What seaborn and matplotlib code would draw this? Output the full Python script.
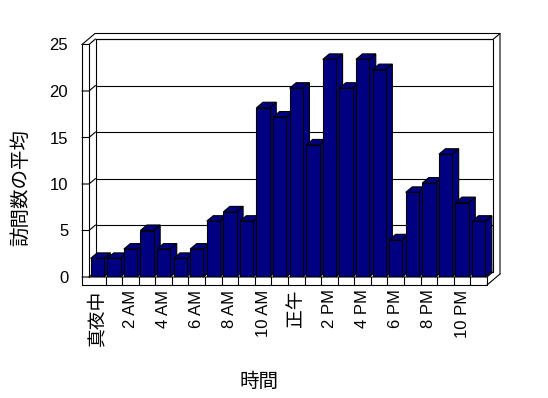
import matplotlib
matplotlib.use('Agg')
import matplotlib.pyplot as plt
import seaborn as sns
from matplotlib.patches import Polygon
from matplotlib.lines import Line2D
from matplotlib.transforms import IdentityTransform

# data
hours = ['真夜中', '1 AM', '2 AM', '3 AM', '4 AM', '5 AM', '6 AM', '7 AM', '8 AM', '9 AM',
         '10 AM', '11 AM', '正午', '1 PM', '2 PM', '3 PM', '4 PM', '5 PM', '6 PM', '7 PM',
         '8 PM', '9 PM', '10 PM', '11 PM']
avg_visits = [2, 2, 3, 5, 3, 2, 3, 6, 7, 6, 18.2, 17.2, 20.3, 14.2, 23.4, 20.3, 23.4, 22.3,
              4, 9.1, 10.1, 13.2, 8, 6]
y_ticks = [0, 5, 10, 15, 20, 25]

sns.set_style('white')
plt.rcParams['font.family'] = ['Liberation Sans', 'Noto Sans CJK JP', 'DejaVu Sans']
plt.rcParams['text.color'] = 'black'
plt.rcParams['axes.labelcolor'] = 'black'
plt.rcParams['xtick.color'] = 'black'
plt.rcParams['ytick.color'] = 'black'

fig = plt.figure(figsize=(5.48, 3.98), dpi=100)
ax = fig.add_axes([89 / 548, 1 - 277 / 398, 398 / 548, 232.5 / 398])
ax.patch.set_visible(False)

bar_color = '#000080'
sns.barplot(x=hours, y=avg_visits, color=bar_color, saturation=1, width=0.8,
            edgecolor='black', linewidth=0.8, ax=ax)

n = len(hours)
ax.set_xlim(-0.5, n - 0.5)
ax.set_ylim(0, 25)
ax.set_yticks(y_ticks)
ax.set_xticks(range(n))
ax.set_xticklabels([h if i % 2 == 0 else '' for i, h in enumerate(hours)], rotation=90,
                   fontsize=12)
for lab in ax.get_xticklabels():
    if lab.get_text() in ('真夜中', '正午'):
        lab.set_fontsize(13.5)
ax.tick_params(axis='x', length=0, pad=9)
ax.tick_params(axis='y', length=0, pad=15, labelsize=12)
for s in ax.spines.values():
    s.set_visible(False)
ax.set_xlabel('時間', fontsize=14)
ax.set_ylabel('訪問数の平均', fontsize=14)
ax.xaxis.set_label_coords(0.426, -0.41)
ax.yaxis.set_label_coords(-0.149, 0.385)

# pseudo 3D geometry (pixels)
dx, dy = 6.5, 5.5      # depth of bars / back wall offset
wall = 7               # left wall thickness
floor = 8              # floor thickness
ident = IdentityTransform()


def P(x, y):
    return ax.transData.transform((x, y))


def line(pts, z=1):
    xs = [p[0] for p in pts]
    ys = [p[1] for p in pts]
    ax.add_line(Line2D(xs, ys, transform=ident, color='black', lw=0.8, zorder=z,
                       clip_on=False))


x0, x1 = -0.5, n - 0.5
lb, rb = P(x0, 0), P(x1, 0)
lt, rt = P(x0, 25), P(x1, 25)
D = (dx, dy)
D2 = (2 * dx, 2 * dy)


def add(p, d, k=1):
    return (p[0] + d[0] * k, p[1] + d[1] * k)


# back wall and grid lines
for yv in y_ticks:
    a, b = P(x0, yv), P(x1, yv)
    line([add(a, D), add(b, D)])
    line([(a[0] - wall, a[1]), a, add(a, D)])
line([add(lb, D), add(lt, D), add(rt, D), add(rb, D)])
# outer edge of the walls
line([(lt[0] - wall, lt[1]), add((lt[0] - wall, lt[1]), D2), add(rt, D2),
      (rt[0] + D2[0], rb[1] - floor + D2[1])])
line([add(rt, D), add(rt, D2)])
# left wall
line([(lt[0] - wall, lt[1]), (lb[0] - wall, lb[1] - floor)])
line([lt, lb])
# floor
line([lb, rb, add(rb, D)], z=5)
line([(lb[0] - wall, lb[1] - floor), (rb[0], rb[1] - floor), rb], z=5)
line([(rb[0], rb[1] - floor), add((rb[0], rb[1] - floor), D2)], z=5)
for k in range(1, n):
    p = P(k - 0.5, 0)
    line([p, (p[0], p[1] - floor)], z=5)

# bar top and side faces
for i, bar in enumerate(ax.patches):
    bx0 = bar.get_x()
    bx1 = bx0 + bar.get_width()
    h = bar.get_height()
    bar.set_zorder(2 + i * 0.01 + 0.005)
    a, b, c = P(bx0, h), P(bx1, h), P(bx1, 0)
    top = Polygon([a, add(a, D), add(b, D), b], closed=True, transform=ident,
                  facecolor=bar_color, edgecolor='black', lw=0.8, zorder=2 + i * 0.01,
                  clip_on=False)
    side = Polygon([b, add(b, D), add(c, D), c], closed=True, transform=ident,
                   facecolor=bar_color, edgecolor='black', lw=0.8, zorder=2 + i * 0.01,
                   clip_on=False)
    ax.add_patch(side)
    ax.add_patch(top)

fig.savefig('out.png', dpi=100)
